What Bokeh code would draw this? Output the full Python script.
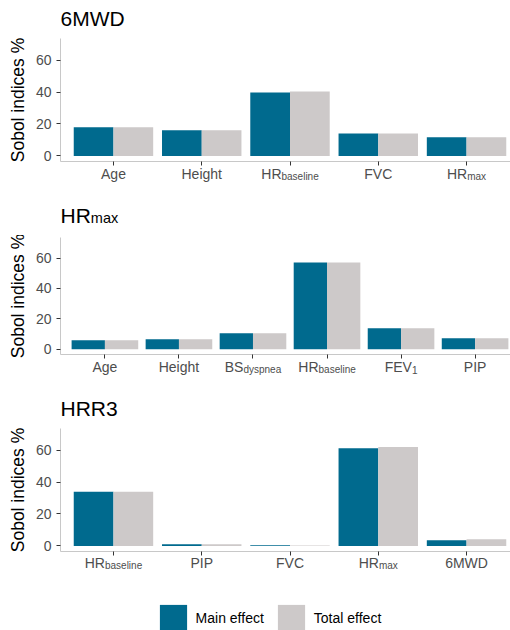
from bokeh.plotting import figure
from bokeh.models import Range1d, FixedTicker, Legend, LegendItem
from bokeh.layouts import column
from bokeh.embed import file_html
from bokeh.resources import INLINE
from bokeh.core.properties import value

# ---------------- data ----------------
p1_title = ["6MWD", ""]
p1_main = ["Age", "Height", "HR", "FVC", "HR"]
p1_sub = ["", "", "baseline", "", "max"]
p1_main_eff = [17.9, 16.0, 39.7, 14.1, 11.7]
p1_total_eff = [17.9, 16.0, 40.3, 14.1, 11.7]

p2_title = ["HR", "max"]
p2_main = ["Age", "Height", "BS", "HR", "FEV", "PIP"]
p2_sub = ["", "", "dyspnea", "baseline", "1", ""]
p2_main_eff = [5.9, 6.6, 10.5, 57.1, 13.8, 7.2]
p2_total_eff = [5.9, 6.6, 10.5, 57.1, 13.8, 7.2]

p3_title = ["HRR3", ""]
p3_main = ["HR", "PIP", "FVC", "HR", "6MWD"]
p3_sub = ["baseline", "", "", "max", ""]
p3_main_eff = [33.9, 1.0, 0.4, 61.2, 3.5]
p3_total_eff = [33.9, 1.0, 0.3, 61.9, 4.1]

y_ticks = [0, 20, 40, 60]
series_names = ["Main effect", "Total effect"]
y_label = "Sobol indices %"

# ---------------- style ----------------
BLUE = "#006A8E"
GREY = "#CDC9C9"
FONT = "Liberation Sans"
FRAME_W = 450
LEFT = 60
Y0, Y1 = -3.5, 73.5
TICK_FS, SUB_FS, TITLE_FS, TITLE_SUB_FS = 14, 10, 21, 14.5
TXT_SHIFT = 7  # baseline correction for text glyphs

# Arial/Liberation Sans advance widths (per 1000 em)
AW = {' ': 278, '%': 889, '0': 556, '1': 556, '3': 556, '6': 556, 'A': 667, 'B': 667,
      'C': 722, 'D': 722, 'E': 667, 'F': 611, 'H': 722, 'I': 278, 'M': 833, 'P': 667,
      'R': 722, 'S': 667, 'T': 611, 'V': 667, 'W': 944, 'a': 556, 'b': 556, 'c': 500,
      'd': 556, 'e': 556, 'f': 278, 'g': 556, 'h': 556, 'i': 222, 'l': 222, 'm': 833,
      'n': 556, 'o': 556, 'p': 556, 's': 500, 't': 278, 'x': 500, 'y': 500}


def tw(s, fs):
    return sum(AW.get(c, 556) for c in s) * fs / 1000.0


def x_range_for(n):
    return Range1d(0.4, 0.4 + FRAME_W * (n + 0.2) / 459.0)


def strip(x_range, h):
    s = figure(frame_width=FRAME_W, frame_height=h, min_border_left=LEFT,
               min_border_right=0, min_border_top=0, min_border_bottom=0,
               x_range=x_range, y_range=Range1d(0, h),
               x_axis_location=None, y_axis_location=None,
               output_backend="svg", toolbar_location=None)
    s.outline_line_color = None
    s.grid.visible = False
    return s


def add_title(s, title, base):
    base = base + TXT_SHIFT
    t_main, t_sub = title
    x0 = s.x_range.start
    s.text(x=[x0], y=[base], text=[t_main], text_font=value(FONT),
           text_font_size=f"{TITLE_FS}px", text_color="black",
           text_align="left", text_baseline="alphabetic")
    if t_sub:
        s.text(x=[x0], y=[base - 2.7], text=[t_sub], x_offset=tw(t_main, TITLE_FS),
               text_font=value(FONT), text_font_size=f"{TITLE_SUB_FS}px",
               text_color="black", text_align="left", text_baseline="alphabetic")


def add_ticklabels(s, main, sub, base):
    base = base + TXT_SHIFT
    n = len(main)
    pos = list(range(1, n + 1))
    w_main = [tw(m, TICK_FS) for m in main]
    w_sub = [tw(t, SUB_FS) for t in sub]
    off_main = [-(a + b) / 2.0 for a, b in zip(w_main, w_sub)]
    off_sub = [o + a for o, a in zip(off_main, w_main)]
    s.text(x=pos, y=[base] * n, text=main, x_offset=off_main, text_font=value(FONT),
           text_font_size=f"{TICK_FS}px", text_color="#4D4D4D",
           text_align="left", text_baseline="alphabetic")
    ks = [i for i in range(n) if sub[i]]
    s.text(x=[pos[i] for i in ks], y=[base - 3] * len(ks), text=[sub[i] for i in ks],
           x_offset=[off_sub[i] for i in ks], text_font=value(FONT),
           text_font_size=f"{SUB_FS}px", text_color="#4D4D4D",
           text_align="left", text_baseline="alphabetic")


def make_panel(x_range, v_main, v_total, frame_h):
    n = len(v_main)
    p = figure(frame_width=FRAME_W, frame_height=frame_h,
               min_border_left=LEFT, min_border_right=0,
               min_border_top=2, min_border_bottom=5,
               x_range=x_range, y_range=Range1d(Y0, Y1),
               output_backend="svg", toolbar_location=None)
    p.outline_line_color = None
    p.grid.visible = False
    pos = list(range(1, n + 1))
    p.vbar(x=[i - 0.225 for i in pos], top=v_main, bottom=0, width=0.45,
           fill_color=BLUE, line_color=None)
    p.vbar(x=[i + 0.225 for i in pos], top=v_total, bottom=0, width=0.45,
           fill_color=GREY, line_color=None)
    for ax in (p.xaxis, p.yaxis):
        ax.axis_line_color = "#C8C8C8"
        ax.axis_line_width = 1
        ax.major_tick_line_color = "#333333"
        ax.major_tick_out = 4
        ax.major_tick_in = 0
        ax.minor_tick_out = 0
        ax.minor_tick_in = 0
    p.xaxis.ticker = FixedTicker(ticks=pos)
    p.xaxis.major_label_overrides = {i: "" for i in pos}
    p.xaxis.major_label_text_font_size = "0px"
    p.xaxis.major_label_standoff = 0
    p.yaxis.ticker = FixedTicker(ticks=y_ticks)
    p.yaxis.major_label_text_font = FONT
    p.yaxis.major_label_text_font_size = f"{TICK_FS}px"
    p.yaxis.major_label_text_color = "#4D4D4D"
    p.yaxis.major_label_standoff = 5
    p.yaxis.axis_label = y_label
    p.yaxis.axis_label_text_font = FONT
    p.yaxis.axis_label_text_font_size = "17.5px"
    p.yaxis.axis_label_text_font_style = "normal"
    p.yaxis.axis_label_text_color = "black"
    p.yaxis.axis_label_standoff = 5
    return p


xr1 = x_range_for(len(p1_main))
xr2 = x_range_for(len(p2_main))
xr3 = x_range_for(len(p3_main))

sA = strip(xr1, 36)
add_title(sA, p1_title, 11)
p1 = make_panel(xr1, p1_main_eff, p1_total_eff, 123)

sB = strip(xr1, 69)
add_ticklabels(sB, p1_main, p1_sub, 55)
add_title(sB, p2_title, 13.3)
p2 = make_panel(xr2, p2_main_eff, p2_total_eff, 117)

sC = strip(xr2, 67)
add_ticklabels(sC, p2_main, p2_sub, 52.7)
add_title(sC, p3_title, 11.4)
p3 = make_panel(xr3, p3_main_eff, p3_total_eff, 123)

sD = strip(xr3, 74)
add_ticklabels(sD, p3_main, p3_sub, 60.7)
# legend proxies: drawn on a range that puts them below the visible strip,
# so that only their legend keys show
sD.extra_y_ranges = {"off": Range1d(100, 200)}
pos3 = list(range(1, len(p3_main) + 1))
g1 = sD.vbar(x=pos3, top=p3_main_eff, bottom=0, width=0.45, fill_color=BLUE,
             line_color=None, y_range_name="off")
g2 = sD.vbar(x=pos3, top=p3_total_eff, bottom=0, width=0.45, fill_color=GREY,
             line_color=None, y_range_name="off")
legend = Legend(items=[LegendItem(label=series_names[0], renderers=[g1]),
                       LegendItem(label=series_names[1], renderers=[g2])],
                orientation="horizontal", location=(95.6, -4.5),
                glyph_width=34, glyph_height=34, label_standoff=6, spacing=10,
                padding=0, margin=0, border_line_color=None,
                background_fill_alpha=0, label_text_font=FONT,
                label_text_font_size="14px", label_text_color="black")
sD.add_layout(legend)

layout = column(sA, p1, sB, p2, sC, p3, sD, spacing=0)
open("out.html", "w").write(file_html(layout, INLINE))
